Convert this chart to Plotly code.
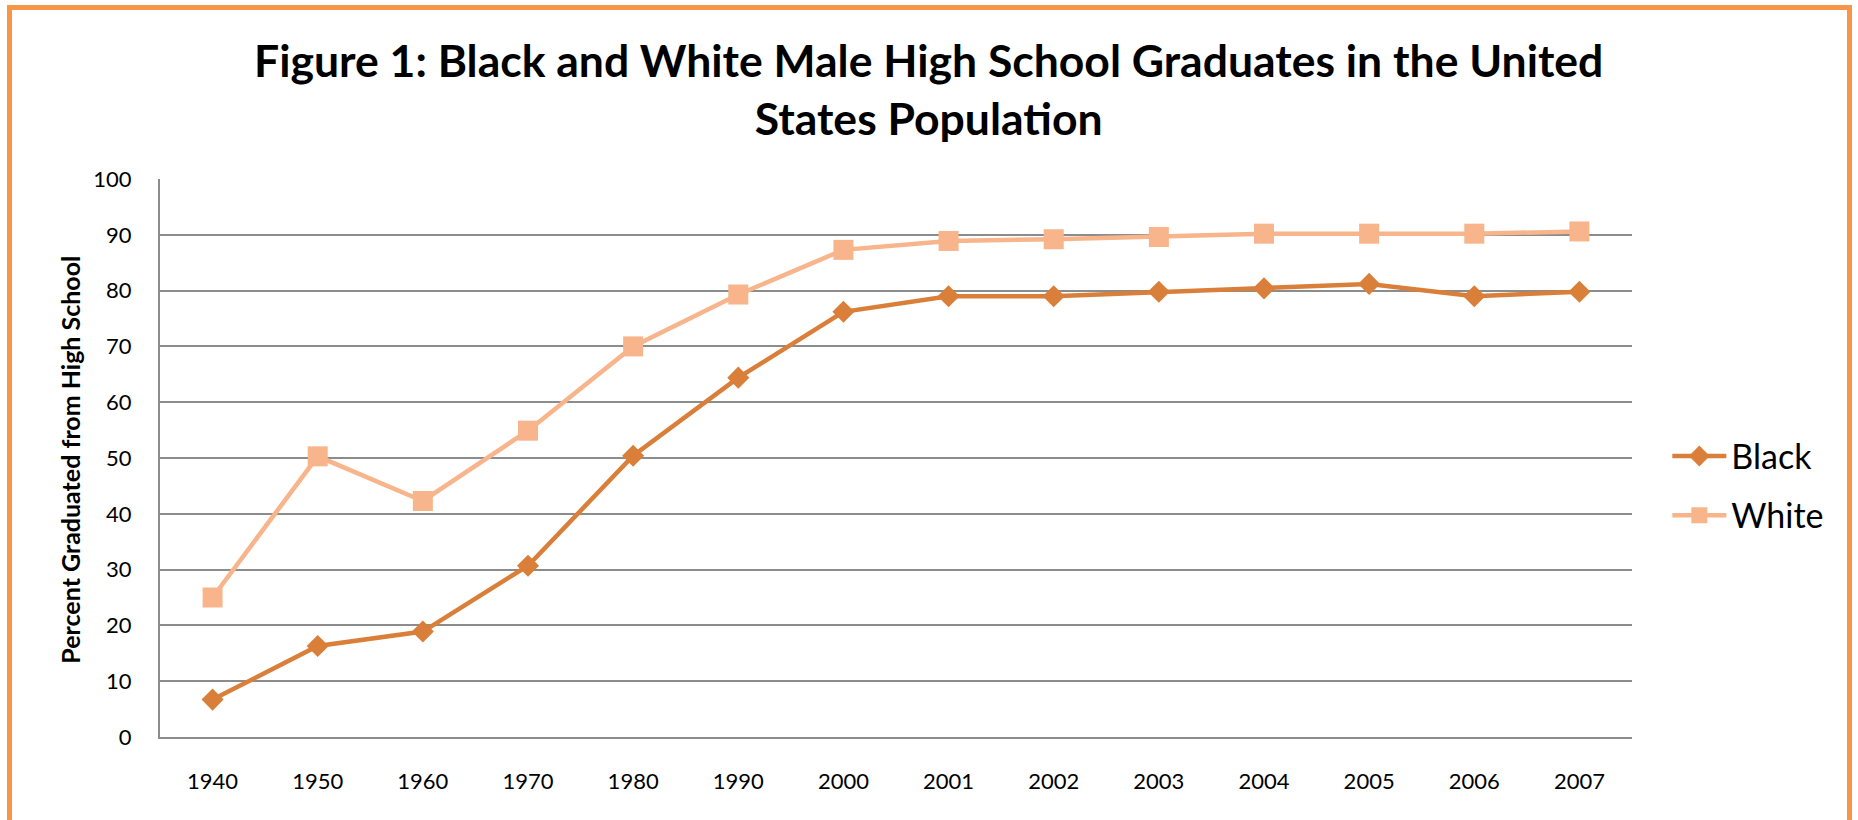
import plotly.graph_objects as go

years = ["1940", "1950", "1960", "1970", "1980", "1990", "2000",
         "2001", "2002", "2003", "2004", "2005", "2006", "2007"]
black = [6.7, 16.3, 18.9, 30.7, 50.4, 64.4, 76.2, 79.0, 79.0, 79.8, 80.4, 81.2, 79.0, 79.8]
white = [25.0, 50.3, 42.3, 54.9, 70.0, 79.3, 87.3, 88.9, 89.2, 89.6, 90.2, 90.2, 90.2, 90.6]
y_ticks = [0, 10, 20, 30, 40, 50, 60, 70, 80, 90, 100]

FONT = "Lato"
C_BLACK = "#DA7F39"
C_WHITE = "#F8B48A"
GRID = "#8C8C8C"

fig = go.Figure()
fig.add_trace(go.Scatter(
    x=years, y=black, name="Black", mode="lines+markers",
    line=dict(color=C_BLACK, width=4.5),
    marker=dict(symbol="diamond", size=17, color=C_BLACK),
    legendgroup="b",
))
fig.add_trace(go.Scatter(
    x=years, y=white, name="White", mode="lines+markers",
    line=dict(color=C_WHITE, width=4.5),
    marker=dict(symbol="square", size=20, color=C_WHITE),
    legendgroup="w",
))

fig.update_layout(
    width=1858, height=820,
    margin=dict(l=160, r=226, t=179, b=83),
    paper_bgcolor="white", plot_bgcolor="white",
    font=dict(family=FONT, color="black"),
    showlegend=True,
    legend=dict(
        x=1.024, y=0.45, xanchor="left", yanchor="middle",
        font=dict(size=34, family=FONT, color="black"),
        bgcolor="rgba(0,0,0,0)", tracegroupgap=12,
        itemwidth=54,
    ),
)

fig.update_xaxes(
    type="category", range=[-0.5, 13.5], showgrid=False, showline=True,
    linecolor=GRID, linewidth=2,
    ticks="", tickfont=dict(size=22, family=FONT, color="black"),
    ticklabelstandoff=24, zeroline=False,
)
fig.update_yaxes(
    range=[0, 100], tickvals=y_ticks, showgrid=True, gridcolor=GRID, gridwidth=2,
    showline=True, linecolor=GRID, linewidth=2, ticks="",
    tickfont=dict(size=22, family=FONT, color="black"),
    ticklabelstandoff=22, zeroline=False,
)

# chart title (two lines, centred on the whole chart)
fig.add_annotation(
    text="<b>Figure 1: Black and White Male High School Graduates in the United<br>States Population</b>",
    xref="paper", yref="paper", x=(929 - 160) / 1472, y=(737 - 89) / 558,
    xanchor="center", yanchor="middle", showarrow=False, align="center",
    font=dict(size=44.5, family=FONT, color="black"),
)

fig.add_annotation(
    text="<b>Percent Graduated from High School</b>",
    xref="paper", yref="paper", x=0, y=0.497, xshift=-90,
    xanchor="center", yanchor="middle", textangle=-90, showarrow=False,
    font=dict(size=25, family=FONT, color="black"),
)

# outer chart border
fig.add_shape(
    type="rect", xref="paper", yref="paper",
    x0=(9.5 - 160) / 1472, x1=(1849.5 - 160) / 1472,
    y0=(737 - 840) / 558, y1=(737 - 7.5) / 558,
    line=dict(color="#F79646", width=5), fillcolor="rgba(0,0,0,0)", layer="below",
)

fig.write_html("out.html")
